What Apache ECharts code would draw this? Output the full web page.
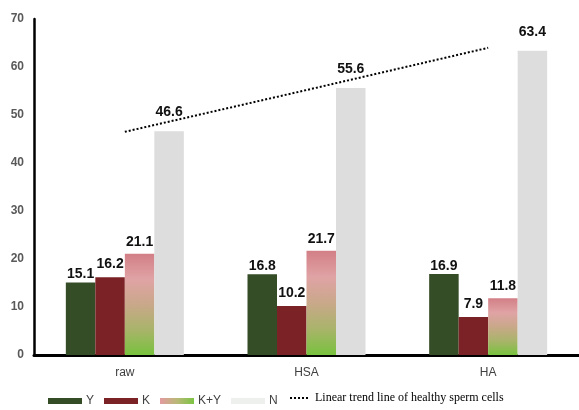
<!DOCTYPE html>
<html>
<head>
<meta charset="utf-8">
<script src="https://cdn.jsdelivr.net/npm/echarts@6/dist/echarts.min.js"></script>
<style>html,body{margin:0;padding:0;background:#fff}#c{width:579px;height:410px}</style>
</head>
<body>
<div id="c"></div>
<script>
const categories = ['raw', 'HSA', 'HA'];
const yValues = [15.1, 16.8, 16.9];
const kValues = [16.2, 10.2, 7.9];
const kyValues = [21.1, 21.7, 11.8];
const nValues = [46.6, 55.6, 63.4];
const trendValues = [46.5, 55.2, 64.0];
const trendName = 'Linear trend line of healthy sperm cells';

const chart = echarts.init(document.getElementById('c'));
const G = echarts.graphic.LinearGradient;
const kyBarGrad = new G(0, 0, 0, 1, [
  {offset: 0, color: '#d27f86'},
  {offset: 0.25, color: '#e0a3a5'},
  {offset: 0.5, color: '#c9a88a'},
  {offset: 0.75, color: '#a9b46a'},
  {offset: 1, color: '#78c23e'}
]);
const kyLegendGrad = new G(0, 0, 1, 0, [
  {offset: 0, color: '#e39aa0'},
  {offset: 0.5, color: '#b9b878'},
  {offset: 1, color: '#7cc443'}
]);
const labelBase = {show: true, position: 'top', color: '#111', fontWeight: 'bold', fontSize: 14, fontFamily: 'Liberation Sans, Arial, sans-serif'};

chart.setOption({
  animation: false,
  backgroundColor: '#fff',
  grid: {left: 34, top: 19, bottom: 55, width: 548},
  legend: [
    {
      left: 43, top: 390, itemWidth: 34, itemHeight: 6, itemGap: 10,
      icon: 'rect',
      textStyle: {color: '#404040', fontSize: 12, fontFamily: 'Liberation Sans, Arial, sans-serif', padding: [0, 0, 0, -1]},
      data: [
        {name: 'Y', itemStyle: {color: '#354d26'}},
        {name: 'K', itemStyle: {color: '#7b2226'}},
        {name: 'K+Y', itemStyle: {color: kyLegendGrad}},
        {name: 'N', itemStyle: {color: '#eef0ee'}}
      ]
    },
    {
      left: 284, top: 387, itemWidth: 20, itemHeight: 10,
      textStyle: {color: '#000', fontSize: 12, fontFamily: 'Liberation Serif, Times New Roman, serif'},
      data: [{name: trendName, itemStyle: {opacity: 0}}]
    }
  ],
  xAxis: {
    type: 'category', data: categories,
    axisLine: {lineStyle: {color: '#000', width: 3}},
    axisTick: {show: false},
    axisLabel: {color: '#404040', fontSize: 12, margin: 12, fontFamily: 'Liberation Sans, Arial, sans-serif'}
  },
  yAxis: {
    type: 'value', min: 0, max: 70, interval: 10,
    axisLine: {show: true, lineStyle: {color: '#000', width: 2.5}},
    axisTick: {show: false},
    splitLine: {show: false},
    axisLabel: {color: '#595959', fontWeight: 'bold', fontSize: 12, margin: 10, fontFamily: 'Liberation Sans, Arial, sans-serif'}
  },
  series: [
    {name: 'Y', type: 'bar', data: yValues, barWidth: 29.5, barGap: '0%', itemStyle: {color: '#354d26'}, label: Object.assign({}, labelBase, {distance: 1})},
    {name: 'K', type: 'bar', data: kValues, barWidth: 29.5, barGap: '0%', itemStyle: {color: '#7b2226'}, label: Object.assign({}, labelBase, {distance: 6})},
    {name: 'K+Y', type: 'bar', data: kyValues, barWidth: 29.5, barGap: '0%', itemStyle: {color: kyBarGrad}, label: Object.assign({}, labelBase, {distance: 5})},
    {name: 'N', type: 'bar', data: nValues, barWidth: 29.5, barGap: '0%', itemStyle: {color: '#dcdddc'}, label: Object.assign({}, labelBase, {distance: 12})},
    {name: trendName, type: 'line', data: trendValues, symbol: 'none', z: 5,
     lineStyle: {color: '#000', width: 2, type: 'dotted'}, itemStyle: {color: '#000'}}
  ]
});
</script>
</body>
</html>
